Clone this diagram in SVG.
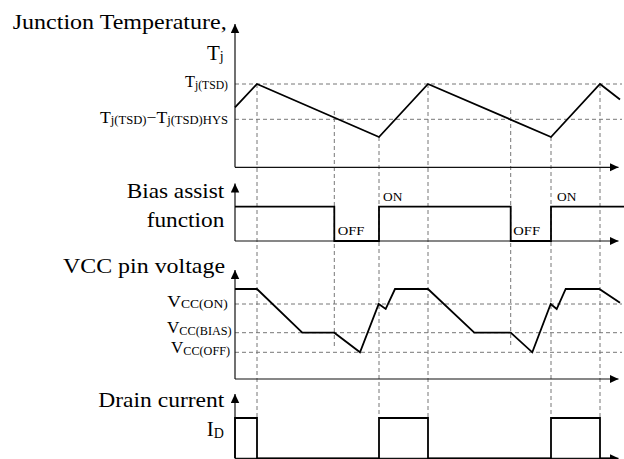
<svg xmlns="http://www.w3.org/2000/svg" width="624" height="459" viewBox="0 0 624 459" font-family="'Liberation Serif', 'Times New Roman', serif">
<style>
  text { font-family: "Liberation Serif", "Times New Roman", serif; fill: #000; }
  .lbl { font-size: 21px; }
  .sub14 { font-size: 14px; }
  .thr { font-size: 17.5px; }
  .sub12 { font-size: 12.5px; }
  .st { font-size: 13px; }
  .axis { stroke: #111; stroke-width: 1.2; fill: none; }
  .wave { stroke: #000; stroke-width: 1.8; fill: none; stroke-linejoin: miter; }
  .dash { stroke: #777; stroke-width: 1; stroke-dasharray: 4 3; fill: none; }
</style>
<defs>
  <marker id="arr" markerUnits="userSpaceOnUse" markerWidth="10" markerHeight="10" refX="9" refY="4.25" orient="auto">
    <path d="M0,0 L9,4.25 L0,8.5 z" fill="#000"/>
  </marker>
</defs>
<rect width="624" height="459" fill="#fff"/>

<g id="guides">
  <line class="dash" x1="235" y1="84" x2="622" y2="84"/>
  <line class="dash" x1="235" y1="119.3" x2="622" y2="119.3"/>
  <line class="dash" x1="235" y1="304" x2="622" y2="304"/>
  <line class="dash" x1="235" y1="332.7" x2="622" y2="332.7"/>
  <line class="dash" x1="235" y1="352.3" x2="622" y2="352.3"/>
  <line class="dash" x1="257" y1="84" x2="257" y2="418"/>
  <line class="dash" x1="334.3" y1="111" x2="334.3" y2="347"/>
  <line class="dash" x1="379" y1="137" x2="379" y2="418"/>
  <line class="dash" x1="428" y1="84" x2="428" y2="418"/>
  <line class="dash" x1="510.7" y1="110" x2="510.7" y2="347"/>
  <line class="dash" x1="551" y1="137" x2="551" y2="418"/>
  <line class="dash" x1="600" y1="84" x2="600" y2="418"/>
</g>

<g id="panel-tj">
  <line class="axis" x1="235" y1="167.3" x2="235" y2="24" marker-end="url(#arr)"/>
  <line class="axis" x1="235" y1="167.3" x2="618.5" y2="167.3" marker-end="url(#arr)"/>
  <polyline class="wave" points="235,107.3 257,84 379,137 428,84 551,137 600,84 620,99.5"/>
  <text class="lbl" x="12.7" y="29" textLength="214" lengthAdjust="spacingAndGlyphs">Junction Temperature,</text>
  <text class="lbl" x="207" y="60">T<tspan class="sub14" dy="1">j</tspan></text>
  <text class="thr" x="185" y="87.3" textLength="43" lengthAdjust="spacingAndGlyphs">T<tspan class="sub12" dy="1.5">j(TSD)</tspan></text>
  <text class="thr" x="100" y="122.7" textLength="128" lengthAdjust="spacingAndGlyphs">T<tspan class="sub12" dy="1.5">j(TSD)</tspan><tspan dy="-1.5">−T</tspan><tspan class="sub12" dy="1.5">j(TSD)HYS</tspan></text>
</g>

<g id="panel-bias">
  <line class="axis" x1="235" y1="241" x2="235" y2="183.5" marker-end="url(#arr)"/>
  <line class="axis" x1="235" y1="241" x2="618.5" y2="241" marker-end="url(#arr)"/>
  <polyline class="wave" points="235,206.7 334.3,206.7 334.3,241 379,241 379,206.7 510.7,206.7 510.7,241 551,241 551,206.7 624,206.7"/>
  <text class="lbl" x="126.7" y="198.3" textLength="97.6" lengthAdjust="spacingAndGlyphs">Bias assist</text>
  <text class="lbl" x="146.7" y="227.3" textLength="77.6" lengthAdjust="spacingAndGlyphs">function</text>
  <text class="st" x="383" y="200.5" textLength="19.3" lengthAdjust="spacingAndGlyphs">ON</text>
  <text class="st" x="337.7" y="235" textLength="26.7" lengthAdjust="spacingAndGlyphs">OFF</text>
  <text class="st" x="513.3" y="235" textLength="26.7" lengthAdjust="spacingAndGlyphs">OFF</text>
  <text class="st" x="557" y="200.5" textLength="19.3" lengthAdjust="spacingAndGlyphs">ON</text>
</g>

<g id="panel-vcc">
  <line class="axis" x1="235" y1="379" x2="235" y2="270" marker-end="url(#arr)"/>
  <line class="axis" x1="235" y1="379" x2="618.5" y2="379" marker-end="url(#arr)"/>
  <polyline class="wave" points="235,289 257,289 302.3,332.7 334.3,332.7 360,352.3 378.7,304 385.7,309 395,289 428,289 474.3,332.7 510.7,332.7 532.3,352.3 550.7,304 556.7,309 565.7,289 599.3,289 620,302.7"/>
  <text class="lbl" x="63" y="272.5" textLength="162" lengthAdjust="spacingAndGlyphs">VCC pin voltage</text>
  <text class="thr" x="167.3" y="306.7" textLength="60.4" lengthAdjust="spacingAndGlyphs">V<tspan class="sub12" dy="1.5">CC(ON)</tspan></text>
  <text class="thr" x="167" y="333" textLength="64.7" lengthAdjust="spacingAndGlyphs">V<tspan class="sub12" dy="1.5">CC(BIAS)</tspan></text>
  <text class="thr" x="171" y="353.3" textLength="59" lengthAdjust="spacingAndGlyphs">V<tspan class="sub12" dy="1.5">CC(OFF)</tspan></text>
</g>

<g id="panel-id">
  <line class="axis" x1="235" y1="458.3" x2="235" y2="394" marker-end="url(#arr)"/>
  <line class="axis" x1="235" y1="458.3" x2="618.5" y2="458.3" marker-end="url(#arr)"/>
  <polyline class="wave" points="235,458.3 235,418 257,418 257,458.3 379,458.3 379,418 428,418 428,458.3 551,458.3 551,418 600,418 600,458.3 610,458.3"/>
  <text class="lbl" x="98.3" y="406.7" textLength="126" lengthAdjust="spacingAndGlyphs">Drain current</text>
  <text class="lbl" x="206.7" y="436">I<tspan class="sub14" dy="2">D</tspan></text>
</g>
</svg>
